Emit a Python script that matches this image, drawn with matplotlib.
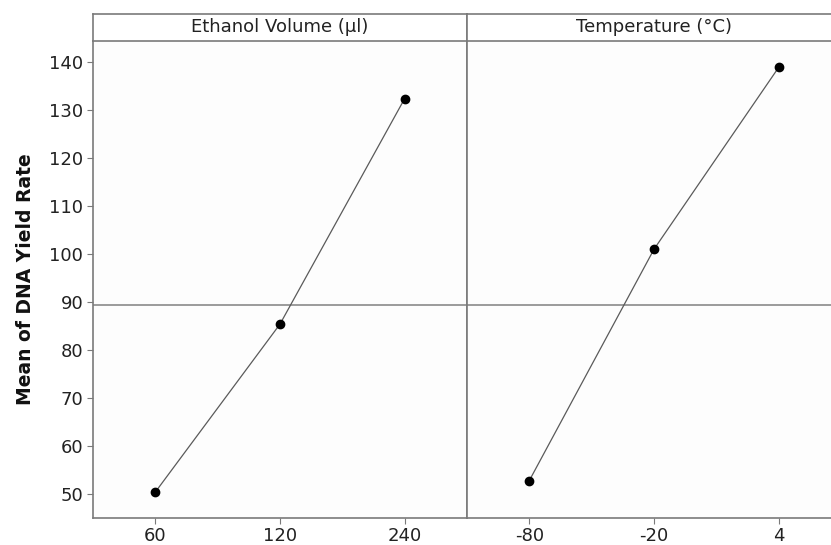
import matplotlib.pyplot as plt

# main effects for DNA yield rate
ethanol_levels = ['60', '120', '240']
ethanol_means = [50.4, 85.4, 132.4]
temp_levels = ['-80', '-20', '4']
temp_means = [52.8, 101.0, 138.9]
grand_mean = 89.4
panel_titles = ['Ethanol Volume (µl)', 'Temperature (°C)']
yticks = [50, 60, 70, 80, 90, 100, 110, 120, 130, 140]

W, H = 831, 545
fig = plt.figure(figsize=(W / 100, H / 100), dpi=100)
fig.patch.set_facecolor('white')

spine_col = '#7a7a7a'
left, pw = 93 / W, 374 / W
bottom, top = (H - 517.5) / H, (H - 41) / H
strip_h = 27 / H

panels = [(ethanol_levels, ethanol_means), (temp_levels, temp_means)]
for i, (levels, means) in enumerate(panels):
    x0 = left + i * pw
    ax = fig.add_axes([x0, bottom, pw, top - bottom])
    ax.set_facecolor('#fdfdfd')
    pos = list(range(1, len(levels) + 1))
    ax.plot(pos, means, '-', color='#5a5a5a', lw=0.9, zorder=3)
    ax.plot(pos, means, 'o', color='black', ms=6, zorder=4)
    ax.axhline(grand_mean, color='#8a8a8a', lw=1.2, zorder=2)
    ax.set_xlim(0.5, 3.5)
    ax.set_ylim(45.1, 144.4)
    ax.set_xticks(pos)
    ax.set_xticklabels(levels)
    ax.set_yticks(yticks)
    for s in ax.spines.values():
        s.set_color(spine_col)
        s.set_linewidth(1.2)
    ax.spines['top'].set_visible(False)
    ax.tick_params(axis='both', direction='out', length=4, color=spine_col,
                   labelsize=13, colors='#222222', pad=3)
    if i == 0:
        ax.set_ylabel('Mean of DNA Yield Rate', fontsize=13.5, fontweight='bold',
                      color='#111111', labelpad=10)
    else:
        ax.tick_params(axis='y', left=False, labelleft=False)
        ax.spines['right'].set_visible(False)

    # header strip
    sax = fig.add_axes([x0, top, pw, strip_h])
    sax.set_xticks([])
    sax.set_yticks([])
    sax.set_facecolor('white')
    for s in sax.spines.values():
        s.set_color(spine_col)
        s.set_linewidth(1.2)
    if i == 1:
        sax.spines['right'].set_visible(False)
    sax.text(0.5, 0.5, panel_titles[i], ha='center', va='center',
             fontsize=13, color='#222222', transform=sax.transAxes)

fig.savefig('out.png', dpi=100)
